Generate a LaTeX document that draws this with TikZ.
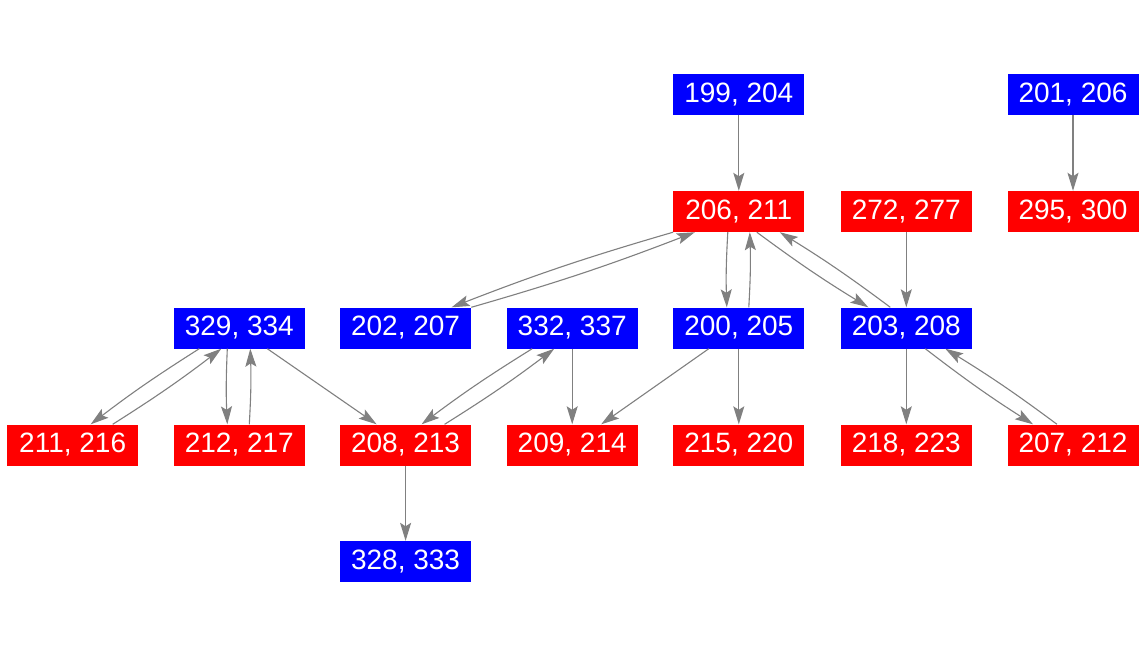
\documentclass[tikz,border=0pt]{standalone}
\usepackage{fontspec}
\setmainfont{Liberation Sans}
\usetikzlibrary{arrows.meta}
\definecolor{nblue}{RGB}{0,0,255}
\definecolor{nred}{RGB}{255,0,0}
\definecolor{egray}{RGB}{128,128,128}
\begin{document}
\begin{tikzpicture}[x=1pt,y=-1pt,
  box/.style={minimum width=131pt,minimum height=41pt,inner sep=0pt,text=white,
    font=\fontsize{28}{32}\selectfont},
  bbox/.style={box,fill=nblue},
  rbox/.style={box,fill=nred},
  arr/.style={draw=egray,line width=1.1pt,-{Stealth[length=18pt,width=11pt,inset=3.5pt]}},
  pr/.style={arr,bend right=2.5}]
\fill[white] (0,0) rectangle (1146,656);
\useasboundingbox (0,0) rectangle (1146,656);
% row 1
\node[bbox] (n199) at (738.8,94.7) {199, 204};
\node[bbox] (n201) at (1073,94.7) {201, 206};
% row 2
\node[rbox] (n206) at (738.8,211.5) {206, 211};
\node[rbox] (n272) at (906.3,211.5) {272, 277};
\node[rbox] (n295) at (1073,211.5) {295, 300};
% row 3
\node[bbox] (n329) at (239.3,328) {329, 334};
\node[bbox] (n202) at (405.6,328) {202, 207};
\node[bbox] (n332) at (572.2,328) {332, 337};
\node[bbox] (n200) at (738.8,328) {200, 205};
\node[bbox] (n203) at (906.3,328) {203, 208};
% row 4
\node[rbox] (n211) at (72.7,445) {211, 216};
\node[rbox] (n212) at (239.3,445) {212, 217};
\node[rbox] (n208) at (405.6,445) {208, 213};
\node[rbox] (n209) at (572.2,445) {209, 214};
\node[rbox] (n215) at (738.8,445) {215, 220};
\node[rbox] (n218) at (906.3,445) {218, 223};
\node[rbox] (n207) at (1073,445) {207, 212};
% row 5
\node[bbox] (n328) at (405.6,561.5) {328, 333};
% straight edges
\draw[arr] (n199) -- (n206);
\draw[arr] (n201) -- (n295);
\draw[arr] (n272) -- (n203);
\draw[arr] (n203) -- (n218);
\draw[arr] (n200) -- (n215);
\draw[arr] (n332) -- (n209);
\draw[arr] (n208) -- (n328);
\draw[arr] ([xshift=-30pt]n200.south) -- ([xshift=29pt]n209.north);
\draw[arr] ([xshift=28pt]n329.south) -- ([xshift=-29pt]n208.north);
% paired edges
\draw[pr] (n206.south west) to ([xshift=46pt]n202.north);
\draw[pr] (n202.north east) to ([xshift=-44pt]n206.south);
\draw[pr] ([xshift=-11pt]n206.south) to ([xshift=-12pt]n200.north);
\draw[pr] ([xshift=10pt]n200.north) to ([xshift=11pt]n206.south);
\draw[pr] ([xshift=18pt]n206.south) to ([xshift=-38pt]n203.north);
\draw[pr] ([xshift=-16pt]n203.north) to ([xshift=41pt]n206.south);
\draw[pr] ([xshift=19pt]n203.south) to ([xshift=-40pt]n207.north);
\draw[pr] ([xshift=-16pt]n207.north) to ([xshift=39pt]n203.south);
\draw[pr] ([xshift=-40pt]n332.south) to ([xshift=16pt]n208.north);
\draw[pr] ([xshift=39pt]n208.north) to ([xshift=-18pt]n332.south);
\draw[pr] ([xshift=-40pt]n329.south) to ([xshift=18pt]n211.north);
\draw[pr] ([xshift=40pt]n211.north) to ([xshift=-18pt]n329.south);
\draw[pr] ([xshift=-12pt]n329.south) to ([xshift=-12pt]n212.north);
\draw[pr] ([xshift=10pt]n212.north) to ([xshift=11pt]n329.south);
\end{tikzpicture}
\end{document}
